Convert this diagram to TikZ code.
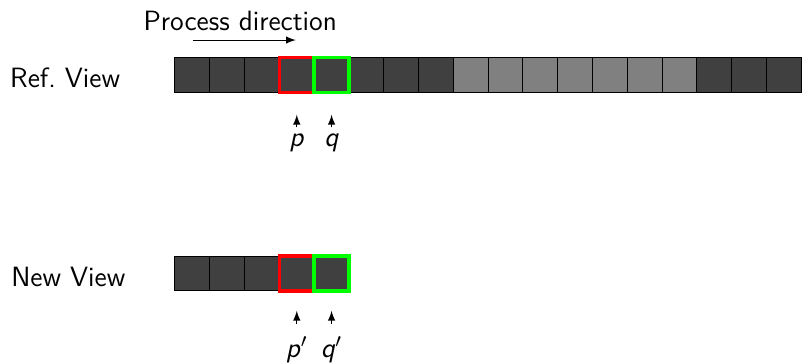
\documentclass[tikz,border=0pt]{standalone}
\usepackage{tikz}
\renewcommand{\familydefault}{\sfdefault}

\begin{document}
\begin{tikzpicture}[>=latex, font=\fontsize{11.4}{14}\selectfont,
	cell/.style={shape=rectangle, draw=black, fill=black!75, minimum size=0.5cm, inner sep=0pt},
	light/.style={cell, fill=black!50},
	pcell/.style={cell, draw=red, line width=1.4pt},
	qcell/.style={cell, draw=green, line width=1.4pt},
	lab/.style={inner sep=0pt}]
	\useasboundingbox (0, 0) rectangle (11.523, -5.216);

	\node[lab, anchor=base west] (ref) at (0.14, -1.264) {Ref.~View};
	\node[lab, anchor=base west] (new) at (0.155, -4.12) {New View};
	\node[lab, anchor=base west] (dir) at (2.055, -0.431) {Process direction};

	\coordinate (d1) at (2.77, -0.575);
	\coordinate (d2) at (4.25, -0.575);

	\node[cell] (R1) at (2.764, -1.075) {};
	\node[cell] (R2) at (3.264, -1.075) {};
	\node[cell] (R3) at (3.764, -1.075) {};
	\node[cell] (R6) at (5.264, -1.075) {};
	\node[cell] (R7) at (5.764, -1.075) {};
	\node[cell] (R8) at (6.264, -1.075) {};
	\node[light] (R9) at (6.764, -1.075) {};
	\node[light] (R10) at (7.264, -1.075) {};
	\node[light] (R11) at (7.764, -1.075) {};
	\node[light] (R12) at (8.264, -1.075) {};
	\node[light] (R13) at (8.764, -1.075) {};
	\node[light] (R14) at (9.264, -1.075) {};
	\node[light] (R15) at (9.764, -1.075) {};
	\node[cell] (R16) at (10.264, -1.075) {};
	\node[cell] (R17) at (10.764, -1.075) {};
	\node[cell] (R18) at (11.264, -1.075) {};
	\node[pcell] (R4) at (4.264, -1.075) {};
	\node[qcell] (R5) at (4.764, -1.075) {};

	\node[cell] (N1) at (2.764, -3.93) {};
	\node[cell] (N2) at (3.264, -3.93) {};
	\node[cell] (N3) at (3.764, -3.93) {};
	\node[pcell] (N4) at (4.264, -3.93) {};
	\node[qcell] (N5) at (4.764, -3.93) {};

	\node[lab, anchor=base] (p) at (4.264, -2.105) {\textit{p}};
	\node[lab, anchor=base] (q) at (4.764, -2.105) {\textit{q}};
	\node[lab, anchor=base] (p2) at (4.264, -5.137) {\textit{p}$'$};
	\node[lab, anchor=base] (q2) at (4.764, -5.137) {\textit{q}$'$};

	\path [->] (d1) edge (d2);

	\path [->, shorten <=2.5pt, shorten >=8.5pt] (p) edge (R4);
	\path [->, shorten <=2.5pt, shorten >=8.5pt] (q) edge (R5);
	\path [->, shorten <=5.3pt, shorten >=7.4pt] (p2) edge (N4);
	\path [->, shorten <=5.3pt, shorten >=7.4pt] (q2) edge (N5);

\end{tikzpicture}
\end{document}
